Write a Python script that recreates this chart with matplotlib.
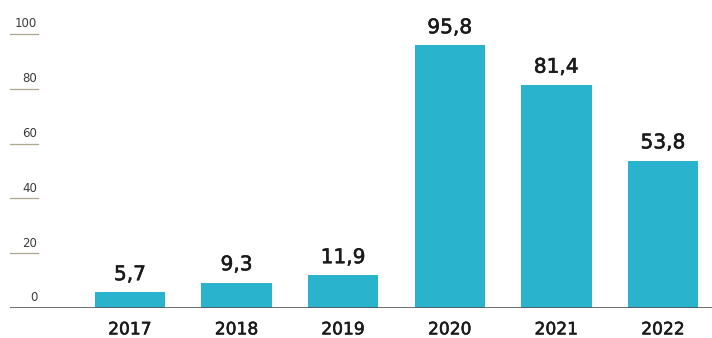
import matplotlib
matplotlib.use("Agg")
import matplotlib.pyplot as plt
import matplotlib.patheffects as pe

years = ["2017", "2018", "2019", "2020", "2021", "2022"]
values = [5.7, 9.3, 11.9, 95.8, 81.4, 53.8]
ticks = [0, 20, 40, 60, 80, 100]

plt.rcParams['font.family'] = ['DejaVu Sans']

fig = plt.figure(figsize=(7.12, 3.38), dpi=100)
ax = fig.add_axes([10 / 712, 30 / 338, 702 / 712, 308 / 338])
ax.set_xlim(-1.125, 5.46)
ax.set_ylim(0, 112.4)
ax.axis('off')

x = list(range(len(years)))
ax.bar(x, values, width=0.66, color='#2ab3cc', zorder=2)

# baseline
ax.axhline(0, color='#555555', lw=1.2, zorder=3)

# tick labels with short underline
for t in ticks[1:]:
    ax.plot([-1.125, -0.86], [t, t], color='#b0a690', lw=0.9)
for t in ticks:
    ax.text(-0.87, t + 1.3, str(t), ha='right', va='bottom',
            fontsize=8.5, color='#3a3a3a')

# make the labels a bit heavier, like a medium weight
thick = [pe.withStroke(linewidth=0.4, foreground='#1a1a1a')]
for xi, v in zip(x, values):
    ax.text(xi, v + 3.0, f"{v:.1f}".replace('.', ','), ha='center',
            va='bottom', fontsize=14.5, color='#1a1a1a', path_effects=thick)
    ax.text(xi, -7.8, years[xi], ha='center', va='center',
            fontsize=12.3, color='#1a1a1a', path_effects=thick)

fig.savefig("out.png", dpi=100)
